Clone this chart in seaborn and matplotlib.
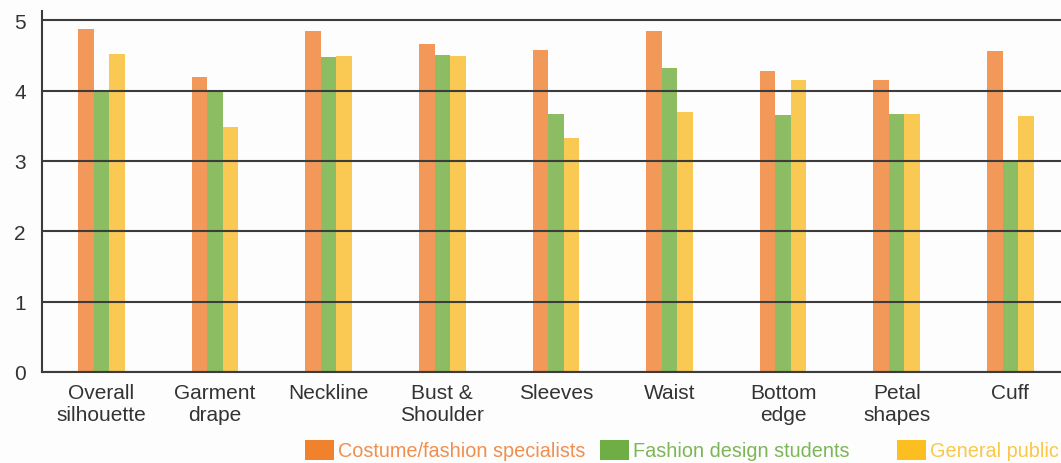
import matplotlib
matplotlib.use("Agg")
import matplotlib.pyplot as plt
from matplotlib.patches import Patch
import pandas as pd
import seaborn as sns

# Mean ratings per garment feature for each respondent group
categories = ["Overall\nsilhouette", "Garment\ndrape", "Neckline", "Bust &\nShoulder",
              "Sleeves", "Waist", "Bottom\nedge", "Petal\nshapes", "Cuff"]
groups = ["Costume/fashion specialists", "Fashion design students", "General public"]
specialists = [4.87, 4.19, 4.84, 4.66, 4.58, 4.85, 4.28, 4.15, 4.56]
students = [4.01, 3.98, 4.47, 4.50, 3.67, 4.32, 3.65, 3.66, 3.00]
public = [4.52, 3.48, 4.49, 4.49, 3.32, 3.69, 4.15, 3.67, 3.64]

bar_colors = ["#F2995A", "#8CBD62", "#F9C953"]
key_colors = ["#F0822E", "#6FAE45", "#FDBE22"]
text_colors = ["#F08F4E", "#7DB656", "#F9C84A"]

df = pd.DataFrame({
    "feature": categories * 3,
    "group": [g for g in groups for _ in categories],
    "score": specialists + students + public,
})

sns.set_theme(style="white")
plt.rcParams["font.family"] = ["Liberation Sans", "DejaVu Sans"]

fig = plt.figure(figsize=(10.61, 4.64), dpi=100)
fig.patch.set_facecolor("#FDFDFD")
ax = fig.add_axes([42 / 1061, 1 - 373 / 464, 1 - 42 / 1061, (373 - 12) / 464])
ax.set_facecolor("#FDFDFD")

sns.barplot(data=df, x="feature", y="score", hue="group", order=categories,
            hue_order=groups, palette=bar_colors, width=0.41, gap=0,
            saturation=1, linewidth=0, legend=False, ax=ax)

ax.set_ylim(0, 5.13)
ax.set_xlim(-0.524, 8.446)
ax.set_yticks([0, 1, 2, 3, 4, 5])
ax.set_axisbelow(False)
ax.grid(axis="y", color="#3C3C3C", linewidth=1.5)
ax.grid(axis="x", visible=False)
ax.set_xlabel("")
ax.set_ylabel("")
for side in ["top", "right"]:
    ax.spines[side].set_visible(False)
for side in ["left", "bottom"]:
    ax.spines[side].set_color("#3C3C3C")
    ax.spines[side].set_linewidth(1.5)
ax.tick_params(axis="both", length=0, labelsize=15, colors="#333333")
ax.tick_params(axis="x", pad=8)
ax.tick_params(axis="y", pad=20)
for lab in ax.get_xticklabels():
    lab.set_linespacing(1.2)
for lab in ax.get_yticklabels():
    lab.set_horizontalalignment("left")

# Three separate legend keys along the bottom edge
key_x = [305 / 1061, 600 / 1061, 897 / 1061]
for name, kc, tc, x in zip(groups, key_colors, text_colors, key_x):
    leg = fig.legend(handles=[Patch(facecolor=kc, edgecolor="none", label=name)],
                     loc="center left", bbox_to_anchor=(x, 1 - 451 / 464),
                     frameon=False, fontsize=14.3, handlelength=1.45,
                     handleheight=1.2, handletextpad=0.2, borderaxespad=0,
                     borderpad=0)
    for t in leg.get_texts():
        t.set_color(tc)

fig.savefig("out.png", dpi=100, facecolor=fig.get_facecolor())
